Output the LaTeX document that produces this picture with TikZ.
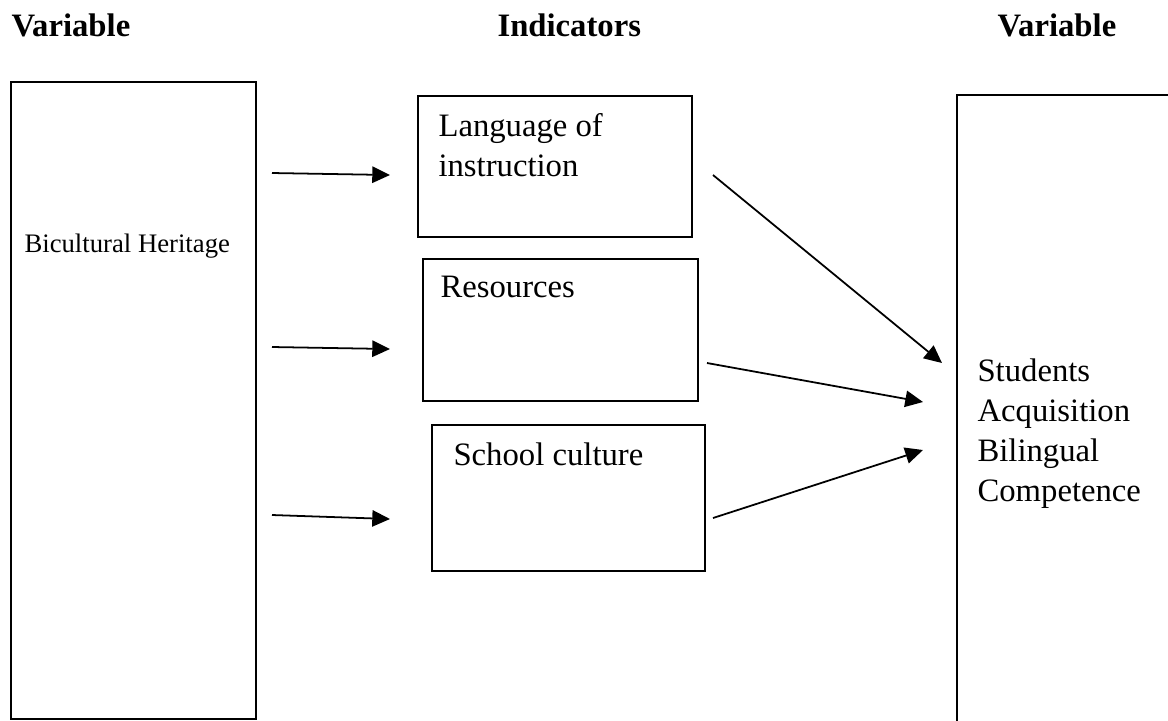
\documentclass[tikz,border=0pt]{standalone}
\usepackage{fontspec}
\setmainfont{Liberation Serif}
\usepackage{tikz}
\usetikzlibrary{arrows.meta, positioning}
\newcommand{\pxu}{0.367pt}
\tikzset{
  framebox/.style={draw=black, line width=0.8pt, anchor=north west, inner sep=0pt, outer sep=0pt},
  boxlabel/.style={anchor=north west, inner sep=0pt, align=left, font=\fontsize{12}{14.7}\selectfont},
  headlabel/.style={anchor=base west, inner sep=0pt, font=\fontsize{12}{14.7}\selectfont\bfseries},
  link/.style={line width=0.65pt, -{Triangle[length=6.5pt, width=6pt]}}
}

\begin{document}
\begin{tikzpicture}[x=\pxu, y=-\pxu]
  \useasboundingbox (0,0) rectangle (1168,720);
  \clip (0,0) rectangle (1168,720);

  % headings
  \node[headlabel] (headleft) at (11,36) {Variable};
  \node[headlabel] (headmid) at (497,36) {Indicators};
  \node[headlabel] (headright) at (997,36) {Variable};

  % variable boxes
  \node[framebox, minimum width=245*\pxu, minimum height=637*\pxu] (heritage) at (11,82) {};
  \node[framebox, minimum width=250*\pxu, minimum height=660*\pxu] (competence) at (957,95) {};
  \node[anchor=base west, inner sep=0pt, font=\fontsize{9.8}{12}\selectfont] (heritagetxt) at (24,252) {Bicultural Heritage};
  \node[boxlabel] (competencetxt) at (977,358) {Students\\Acquisition\\Bilingual\\Competence};

  % indicator boxes
  \node[framebox, minimum width=274*\pxu, minimum height=141*\pxu] (language) at (418,96) {};
  \node[framebox, minimum width=275*\pxu, minimum height=142*\pxu] (resources) at (423,259) {};
  \node[framebox, minimum width=273*\pxu, minimum height=146*\pxu] (culture) at (432,425) {};
  \node[boxlabel] (languagetxt) at (438,113) {Language of\\instruction};
  \node[boxlabel] (resourcestxt) at (440,276) {Resources};
  \node[boxlabel] (culturetxt) at (453,442) {School culture};

  % arrow ends
  \coordinate (outa) at (272,173);
  \coordinate (ina) at (390,175);
  \coordinate (outb) at (272,347);
  \coordinate (inb) at (390,349);
  \coordinate (outc) at (272,515);
  \coordinate (inc) at (390,519);
  \coordinate (froma) at (713,175);
  \coordinate (toa) at (942,363);
  \coordinate (fromb) at (707,363);
  \coordinate (tob) at (923,402);
  \coordinate (fromc) at (713,518);
  \coordinate (toc) at (923,450);

  % arrows
  \draw[link] (outa) -- (ina);
  \draw[link] (outb) -- (inb);
  \draw[link] (outc) -- (inc);
  \draw[link] (froma) -- (toa);
  \draw[link] (fromb) -- (tob);
  \draw[link] (fromc) -- (toc);
\end{tikzpicture}
\end{document}
